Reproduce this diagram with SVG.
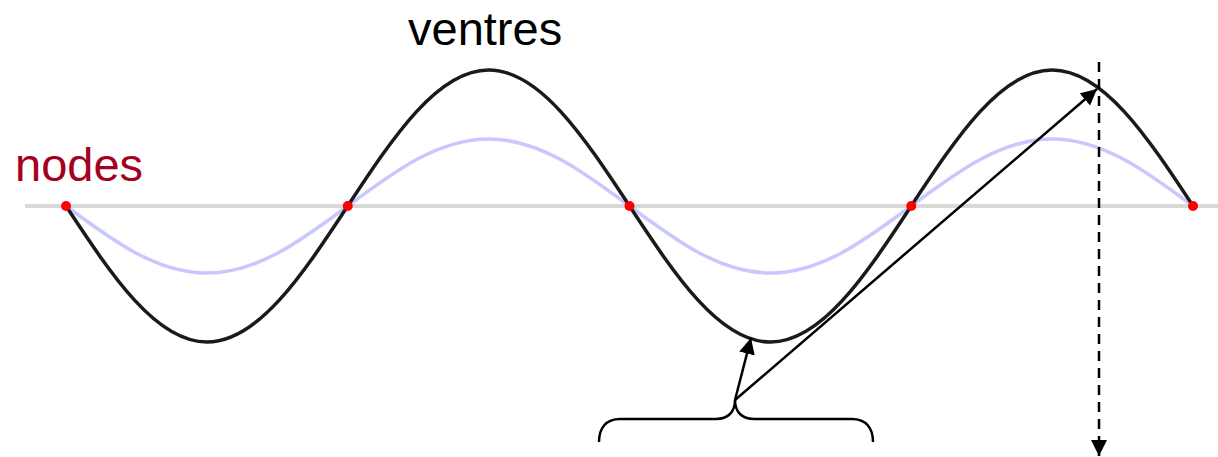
<svg xmlns="http://www.w3.org/2000/svg" width="1218" height="457" viewBox="0 0 1218 457">
<style>
.lbl{font-family:"Liberation Sans",Arial,sans-serif;font-size:47px}
.conn{stroke:#000;stroke-width:2.5;fill:none}
.node{fill:#ff0000}
</style>
<defs>
<marker id="ah" viewBox="0 0 10 10" refX="10" refY="5" markerWidth="16" markerHeight="16" markerUnits="userSpaceOnUse" orient="auto">
<path d="M0,0 L10,5 L0,10 z" fill="#000"/>
</marker>
</defs>
<rect width="1218" height="457" fill="#fff"/>
<g id="axis">
<line x1="25" y1="206" x2="1218" y2="206" stroke="#d9d9d9" stroke-width="4"/>
</g>
<g id="wave-small">
<path d="M66,206 c45.94,34 89.89,67 140.875,67 s94.935,-33 140.875,-67 s89.89,-67 140.875,-67 s94.935,33 140.875,67 s89.89,67 140.875,67 s94.935,-33 140.875,-67 s89.89,-67 140.875,-67 s94.935,33 140.875,67" fill="none" stroke="#c8c8ff" stroke-width="3.5"/>
</g>
<g id="wave-large">
<path d="M66,206 c45.94,69.67 89.89,136 140.875,136 s94.935,-66.33 140.875,-136 s89.89,-136 140.875,-136 s94.935,66.33 140.875,136 s89.89,136 140.875,136 s94.935,-66.33 140.875,-136 s89.89,-136 140.875,-136 s94.935,66.33 140.875,136" fill="none" stroke="#1a1a1a" stroke-width="3.5"/>
</g>
<g id="nodes-points">
<circle class="node" cx="66" cy="206" r="5"/>
<circle class="node" cx="347.75" cy="206" r="5"/>
<circle class="node" cx="629.5" cy="206" r="5"/>
<circle class="node" cx="911.25" cy="206" r="5"/>
<circle class="node" cx="1193" cy="206" r="5"/>
</g>
<g id="label-nodes">
<text class="lbl" x="15" y="181" fill="#a50021">nodes</text>
</g>
<g id="label-ventres">
<text class="lbl" x="408" y="45" fill="#000">ventres</text>
</g>
<g id="brace">
<path class="conn" d="M599,442 C599,428 606,419 620,419 L716,419 C728,419 735,412 735,400 C735,412 742,419 754,419 L852,419 C866,419 873,428 873,442"/>
</g>
<g id="connectors">
<line class="conn" x1="735" y1="400" x2="751" y2="338" marker-end="url(#ah)"/>
<line class="conn" x1="735" y1="400" x2="1097" y2="89" marker-end="url(#ah)"/>
<line class="conn" x1="1099" y1="62" x2="1099" y2="456" stroke-dasharray="10,7" marker-end="url(#ah)"/>
</g>
</svg>
